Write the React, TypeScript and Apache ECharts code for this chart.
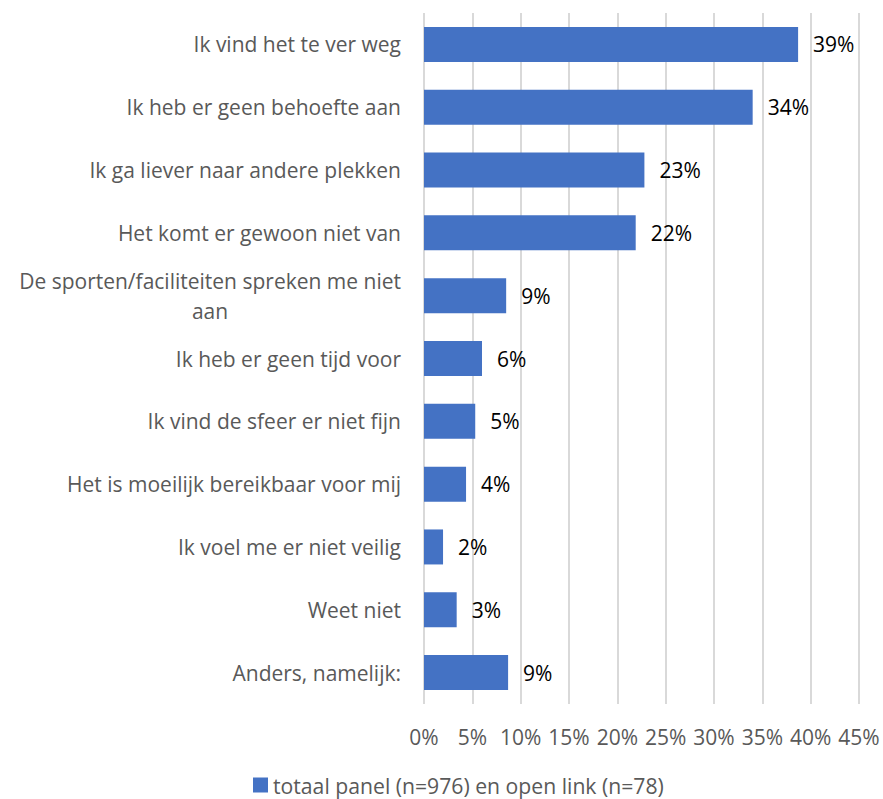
import React, { useEffect, useRef } from "react";
import * as echarts from "echarts";

const categories: string[] = [
  "Ik vind het te ver weg",
  "Ik heb er geen behoefte aan",
  "Ik ga liever naar andere plekken",
  "Het komt er gewoon niet van",
  "De sporten/faciliteiten spreken me niet\naan",
  "Ik heb er geen tijd voor",
  "Ik vind de sfeer er niet fijn",
  "Het is moeilijk bereikbaar voor mij",
  "Ik voel me er niet veilig",
  "Weet niet",
  "Anders, namelijk:",
];

const values: number[] = [38.7, 34.0, 22.8, 21.9, 8.5, 6.0, 5.3, 4.35, 1.97, 3.38, 8.7];

const seriesName = "totaal panel (n=976) en open link (n=78)";
const xTicks = { min: 0, max: 45, interval: 5 };

const FONT = "'Open Sans', 'Noto Sans', sans-serif";
const GRAY = "#595959";

export default function App() {
  const ref = useRef<HTMLDivElement>(null);
  useEffect(() => {
    document.body.style.margin = "0";
    const chart = echarts.init(ref.current!, null, { renderer: "svg" });
    chart.setOption({
      animation: false,
      textStyle: { fontFamily: FONT },
      grid: { left: 424, right: 24, top: 13, bottom: 95, containLabel: false },
      legend: {
        data: [seriesName],
        left: 253,
        top: 774,
        padding: 0,
        itemWidth: 15,
        itemHeight: 15,
        icon: "rect",
        textStyle: { color: GRAY, fontSize: 21.2, fontFamily: FONT, lineHeight: 22 },
      },
      xAxis: {
        type: "value",
        min: xTicks.min,
        max: xTicks.max,
        interval: xTicks.interval,
        axisLine: { show: false },
        axisTick: { show: false },
        splitLine: { show: true, lineStyle: { color: "#d9d9d9", width: 2 } },
        axisLabel: {
          color: GRAY,
          fontSize: 21,
          fontFamily: FONT,
          margin: 22,
          formatter: (v: number) => v + "%",
        },
      },
      yAxis: {
        type: "category",
        inverse: true,
        data: categories,
        axisLine: { show: false },
        axisTick: { show: false },
        axisLabel: {
          color: GRAY,
          fontSize: 21,
          fontFamily: FONT,
          margin: 23,
          lineHeight: 30,
          formatter: (v: string) => {
            if (v.indexOf("\n") >= 0) {
              const parts = v.split("\n");
              return "{a|" + parts[0] + "}\n{c|" + parts[1] + "}";
            }
            return "{a|" + v + "}";
          },
          rich: {
            a: { color: GRAY, fontSize: 21, fontFamily: FONT, lineHeight: 30 },
            c: { color: GRAY, fontSize: 21, fontFamily: FONT, lineHeight: 30, width: 382, align: "center" },
          },
        },
      },
      series: [
        {
          name: seriesName,
          type: "bar",
          data: values,
          barWidth: 35,
          itemStyle: { color: "#4472C4" },
          label: {
            show: true,
            position: "right",
            distance: 15,
            color: "#000000",
            fontSize: 21,
            fontFamily: FONT,
            formatter: (p: any) => Math.round(p.value) + "%",
          },
        },
      ],
    });
    return () => chart.dispose();
  }, []);
  return <div ref={ref} style={{ width: 883, height: 799 }} />;
}
